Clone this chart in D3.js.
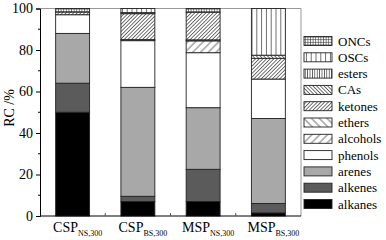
<!DOCTYPE html>
<html>
<head>
<meta charset="utf-8">
<script src="https://cdnjs.cloudflare.com/ajax/libs/d3/7.8.5/d3.min.js"></script>
<style>
  body { margin: 0; background: #fff; }
  svg { display: block; font-family: "Liberation Serif", "DejaVu Serif", serif; }
</style>
</head>
<body>
<svg id="chart" width="386" height="240"></svg>
<script>
// sample names: main text + subscript
const samples = ["CSP", "CSP", "MSP", "MSP"];
const subs = ["NS,300", "BS,300", "NS,300", "BS,300"];

// stacked from bottom to top
const components = ["alkanes", "alkenes", "arenes", "phenols", "alcohols", "ethers",
                    "ketones", "CAs", "esters", "OSCs", "ONCs"];

// relative content (%) per component, one value per sample
const alkanes  = [50,   7,    7,    1.5];
const alkenes  = [14,   2.5,  15.5, 4.5];
const arenes   = [24,   52.5, 29.7, 41];
const phenols  = [9,    22.5, 26.5, 19];
const alcohols = [0,    0,    5.7,  0];
const ethers   = [0,    0.5,  0.5,  0];
const ketones  = [1.3,  12.5, 13.3, 10];
const CAs      = [0,    0.5,  0,    1.5];
const esters   = [0,    0,    0,    0];
const OSCs     = [0,    2,    0,    22.5];
const ONCs     = [1.7,  0,    1.8,  0];

const yTicks = [0, 20, 40, 60, 80, 100];

const seriesValues = { alkanes, alkenes, arenes, phenols, alcohols, ethers,
                       ketones, CAs, esters, OSCs, ONCs };

// table for d3.stack
const table = samples.map((s, i) => {
    const row = { idx: i };
    components.forEach(c => row[c] = seriesValues[c][i]);
    return row;
});

const svg = d3.select("#chart");
const plotL = 40, plotR = 301, plotT = 8.5, plotB = 216;

const x = d3.scaleBand()
    .domain(d3.range(samples.length))
    .range([plotL, plotR])
    .paddingInner(0.48)
    .paddingOuter(0.24);

const y = d3.scaleLinear().domain([0, 100]).range([plotB, plotT]);

// fill patterns
const defs = svg.append("defs");
function linePattern(id, spacing, angle) {
    const p = defs.append("pattern")
        .attr("id", id)
        .attr("patternUnits", "userSpaceOnUse")
        .attr("width", spacing).attr("height", spacing)
        .attr("patternTransform", `rotate(${angle})`);
    p.append("rect").attr("width", spacing).attr("height", spacing).attr("fill", "#fff");
    p.append("line")
        .attr("x1", spacing / 2).attr("x2", spacing / 2)
        .attr("y1", 0).attr("y2", spacing)
        .attr("stroke", "#333").attr("stroke-width", 0.7);
}
linePattern("p-osc", 4.8, 0);
linePattern("p-est", 2.4, 0);
linePattern("p-cas", 2.6, -45);
linePattern("p-ket", 2.6, 45);
linePattern("p-eth", 5.5, -45);
linePattern("p-alc", 5.5, 45);

const grid = defs.append("pattern")
    .attr("id", "p-onc")
    .attr("patternUnits", "userSpaceOnUse")
    .attr("width", 2.6).attr("height", 2.6);
grid.append("rect").attr("width", 2.6).attr("height", 2.6).attr("fill", "#fff");
grid.append("path").attr("d", "M1.3,0V2.6M0,1.3H2.6")
    .attr("stroke", "#333").attr("stroke-width", 0.6);

const fills = {
    alkanes: "#000", alkenes: "#5b5b5b", arenes: "#a8a8a8", phenols: "#fff",
    alcohols: "url(#p-alc)", ethers: "url(#p-eth)", ketones: "url(#p-ket)",
    CAs: "url(#p-cas)", esters: "url(#p-est)", OSCs: "url(#p-osc)", ONCs: "url(#p-onc)"
};

// frame (top and right, grey)
svg.append("path")
    .attr("d", `M${plotL},${plotT}H${plotR}V${plotB}`)
    .attr("fill", "none").attr("stroke", "#999").attr("stroke-width", 1);

// bars
const stacked = d3.stack().keys(components)(table);
svg.append("g").selectAll("g")
    .data(stacked)
    .join("g")
    .attr("fill", d => fills[d.key])
    .selectAll("rect")
    .data(d => d.filter(s => s[1] - s[0] > 0))
    .join("rect")
    .attr("x", d => x(d.data.idx))
    .attr("width", x.bandwidth())
    .attr("y", d => y(d[1]))
    .attr("height", d => y(d[0]) - y(d[1]))
    .attr("stroke", "#222")
    .attr("stroke-width", 0.9);

// y axis
const yAxis = svg.append("g")
    .attr("transform", `translate(${plotL},0)`)
    .call(d3.axisLeft(y).tickValues(yTicks).tickSize(4).tickPadding(3));
yAxis.select(".domain").attr("stroke", "#000");
yAxis.selectAll("text").attr("font-size", 14).attr("font-family", "Liberation Serif").attr("fill", "#000");

// minor y ticks
svg.append("g").selectAll("line")
    .data(d3.range(10, 100, 20))
    .join("line")
    .attr("x1", plotL - 2).attr("x2", plotL)
    .attr("y1", d => y(d)).attr("y2", d => y(d))
    .attr("stroke", "#000");

// x axis line and inner boundary ticks
svg.append("line")
    .attr("x1", plotL).attr("x2", plotR)
    .attr("y1", plotB).attr("y2", plotB)
    .attr("stroke", "#000");
svg.append("g").selectAll("line")
    .data(d3.range(1, samples.length))
    .join("line")
    .attr("x1", d => x(d) - x.step() * x.paddingInner() / 2)
    .attr("x2", d => x(d) - x.step() * x.paddingInner() / 2)
    .attr("y1", plotB).attr("y2", plotB - 3)
    .attr("stroke", "#555");

// x labels with subscripts
const xl = svg.append("g").selectAll("text")
    .data(samples)
    .join("text")
    .attr("x", (d, i) => x(i) + x.bandwidth() / 2 + 5)
    .attr("y", 232)
    .attr("text-anchor", "middle")
    .attr("font-size", 14)
    .attr("fill", "#000");
xl.append("tspan").text(d => d);
xl.append("tspan")
    .attr("font-size", 8)
    .attr("dy", 3.5)
    .text((d, i) => subs[i]);

// y title
svg.append("text")
    .attr("transform", "translate(14,108) rotate(-90)")
    .attr("text-anchor", "middle")
    .attr("font-size", 14)
    .attr("fill", "#000")
    .text("RC /%");

// legend
const legendKeys = components.slice().reverse();
const lg = svg.append("g").selectAll("g")
    .data(legendKeys)
    .join("g")
    .attr("transform", (d, i) => `translate(304,${41 + i * 16.3})`);
lg.append("rect")
    .attr("x", 0).attr("y", -4.5)
    .attr("width", 28).attr("height", 9)
    .attr("fill", d => fills[d])
    .attr("stroke", "#222").attr("stroke-width", 0.9);
lg.append("text")
    .attr("x", 34).attr("y", 4.5)
    .attr("font-size", 13)
    .attr("fill", "#000")
    .text(d => d);
</script>
</body>
</html>
